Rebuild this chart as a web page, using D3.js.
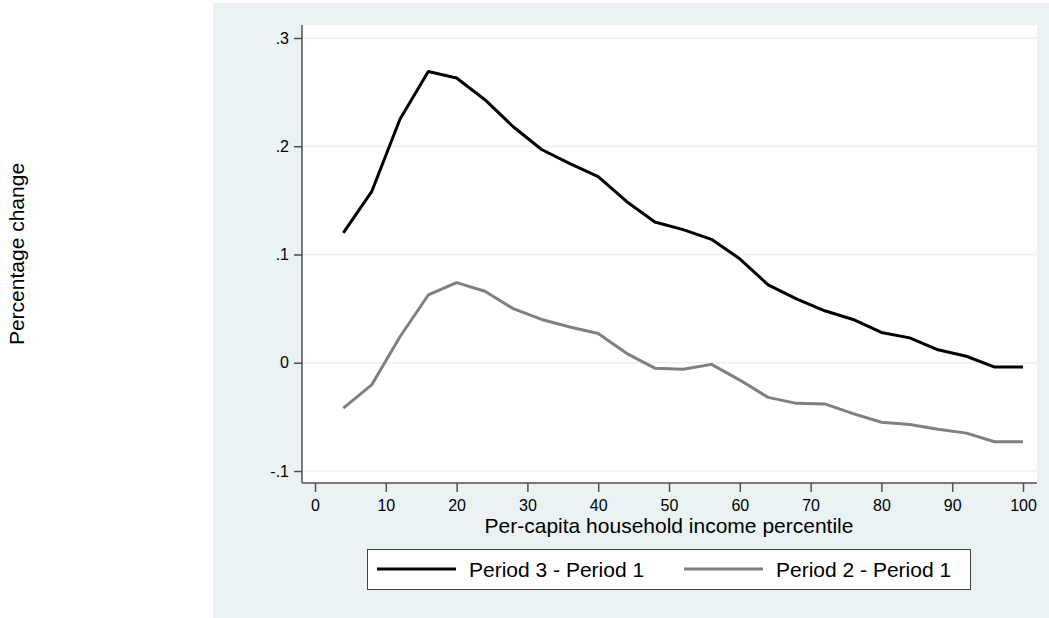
<!DOCTYPE html>
<html>
<head>
<meta charset="utf-8">
<script src="https://cdn.jsdelivr.net/npm/d3@7"></script>
<style>
body{margin:0;background:#fff;}
svg{display:block;font-family:"Liberation Sans",Arial,sans-serif;}
</style>
</head>
<body>
<div id="chart"></div>
<script>
let percentiles=[4,8,12,16,20,24,28,32,36,40,44,48,52,56,60,64,68,72,76,80,84,88,92,96,100];
let p3_p1=[0.120,0.158,0.225,0.269,0.263,0.243,0.218,0.197,0.184,0.172,0.149,0.130,0.123,0.114,0.096,0.072,0.059,0.048,0.040,0.028,0.023,0.012,0.006,-0.004,-0.004];
let p2_p1=[-0.042,-0.0205,0.024,0.0626,0.074,0.066,0.050,0.040,0.033,0.027,0.0087,-0.005,-0.006,-0.0015,-0.016,-0.032,-0.0375,-0.038,-0.047,-0.055,-0.057,-0.0615,-0.065,-0.073,-0.073];
let x_ticks=[0,10,20,30,40,50,60,70,80,90,100];
let y_ticks=[-0.1,0,0.1,0.2,0.3];
let y_tick_labels=["-.1","0",".1",".2",".3"];
let series_names=["Period 3 - Period 1","Period 2 - Period 1"];
let series_colors=["#000000","#808080"];

let width=1049,height=618;
let bg_color="#eaf2f3";
let plot={left:302,right:1037,top:25,bottom:483};

let svg=d3.select('#chart').append('svg')
    .attr("width",width)
    .attr("height",height);

svg.append("rect")
    .attr("x",213).attr("y",3)
    .attr("width",width-213).attr("height",height-3)
    .attr("fill",bg_color);

svg.append("rect")
    .attr("x",plot.left).attr("y",plot.top)
    .attr("width",plot.right-plot.left).attr("height",plot.bottom-plot.top)
    .attr("fill","#fff");

let x=d3.scaleLinear().domain([0,100]).range([315,1023]);
let y=d3.scaleLinear().domain([-0.1,0.3]).range([471,38]);

// gridlines
svg.append('g')
    .selectAll("line")
    .data(y_ticks)
    .enter()
    .append("line")
    .attr("x1",plot.left).attr("x2",plot.right)
    .attr("y1",d=>y(d)).attr("y2",d=>y(d))
    .attr("stroke",bg_color)
    .attr("stroke-width",1.5);

let yAxis=svg.append('g')
    .attr("transform","translate("+plot.left+",0)")
    .call(d3.axisLeft(y).tickValues(y_ticks).tickSize(8).tickPadding(5)
        .tickFormat((d,i)=>y_tick_labels[i]));
yAxis.select(".domain").attr("d","M0,"+plot.top+"V"+plot.bottom);

let xAxis=svg.append('g')
    .attr("transform","translate(0,"+plot.bottom+")")
    .call(d3.axisBottom(x).tickValues(x_ticks).tickSize(9).tickPadding(8));
xAxis.select(".domain").attr("d","M"+plot.left+",0H"+plot.right);

svg.selectAll(".domain").attr("stroke","#505050").attr("stroke-width",1.5);
svg.selectAll(".tick line").attr("stroke","#505050").attr("stroke-width",1.5);
svg.selectAll(".tick text").attr("font-size",16).attr("fill","#000")
    .attr("font-family","\"Liberation Sans\",Arial,sans-serif");

svg.append("text")
    .attr("x",(x(0)+x(100))/2).attr("y",533)
    .attr("text-anchor","middle")
    .attr("font-size",21)
    .text("Per-capita household income percentile");

svg.append("text")
    .attr("transform","translate(24,"+((plot.top+plot.bottom)/2)+") rotate(-90)")
    .attr("text-anchor","middle")
    .attr("font-size",21)
    .text("Percentage change");

let line=d3.line()
    .x((d,i)=>x(percentiles[i]))
    .y(d=>y(d));

svg.append('g')
    .selectAll("path")
    .data([p3_p1,p2_p1])
    .enter()
    .append("path")
    .attr("d",d=>line(d))
    .attr("fill","none")
    .attr("stroke",(d,i)=>series_colors[i])
    .attr("stroke-width",3)
    .attr("stroke-linejoin","round");

// legend
let legend=svg.append('g');
legend.append("rect")
    .attr("x",367.5).attr("y",549.5)
    .attr("width",603).attr("height",40)
    .attr("fill","#fff")
    .attr("stroke","#404040")
    .attr("stroke-width",1);

let legend_x=[377,684];
let items=legend.selectAll(".item")
    .data(series_names)
    .enter()
    .append('g')
    .attr("transform",(d,i)=>"translate("+legend_x[i]+",569)");
items.append("line")
    .attr("x1",0).attr("x2",79)
    .attr("stroke",(d,i)=>series_colors[i])
    .attr("stroke-width",3);
items.append("text")
    .attr("x",92).attr("y",8)
    .attr("font-size",21)
    .text(d=>d);
</script>
</body>
</html>
